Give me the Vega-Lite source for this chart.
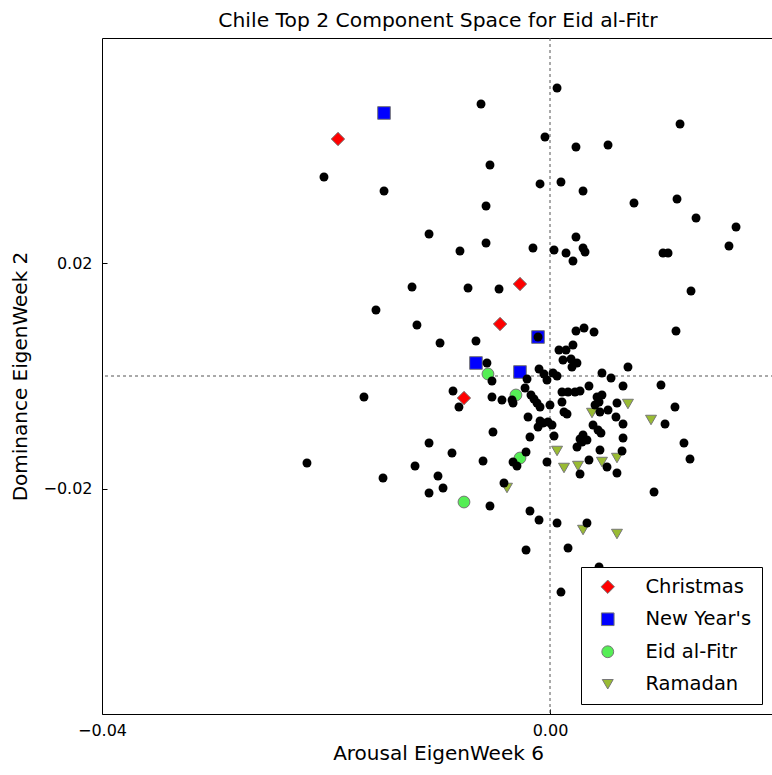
{
  "$schema": "https://vega.github.io/schema/vega-lite/v6.json",
  "autosize": {"type": "none"},
  "padding": {"top": 38, "left": 102, "right": 0, "bottom": 61},
  "width": 672,
  "height": 676,
  "title": {"text": "Chile Top 2 Component Space for Eid al-Fitr", "font": "DejaVu Sans", "fontSize": 20.3, "fontWeight": "normal", "color": "black", "offset": 6, "anchor": "middle"},
  "config": {
    "view": {"stroke": "black", "strokeWidth": 1},
    "axis": {"domain": false, "grid": false, "labelFlush": false, "tickColor": "black", "tickSize": -5, "labelFont": "DejaVu Sans", "labelFontSize": 16, "labelColor": "black", "titleFont": "DejaVu Sans", "titleFontSize": 20, "titleFontWeight": "normal", "titleColor": "black"}
  },
  "datasets": {
    "weeks": [
      {"x": 0.00063, "y": 0.05113}, {"x": -0.00616, "y": 0.04829}, {"x": -0.00045, "y": 0.04243}, {"x": 0.00232, "y": 0.04065},
      {"x": 0.00518, "y": 0.04101}, {"x": 0.01161, "y": 0.04474}, {"x": -0.00536, "y": 0.03746}, {"x": -0.02018, "y": 0.03533},
      {"x": -0.01482, "y": 0.03284}, {"x": -0.00089, "y": 0.03409}, {"x": 0.00098, "y": 0.03444}, {"x": 0.00295, "y": 0.03284},
      {"x": -0.00571, "y": 0.03018}, {"x": 0.0075, "y": 0.03071}, {"x": 0.01134, "y": 0.03142}, {"x": 0.01304, "y": 0.02805},
      {"x": 0.01661, "y": 0.02645}, {"x": 0.01598, "y": 0.02308}, {"x": -0.0108, "y": 0.02521}, {"x": -0.00804, "y": 0.02219},
      {"x": -0.00571, "y": 0.02361}, {"x": -0.00152, "y": 0.02272}, {"x": 0.00036, "y": 0.02237}, {"x": 0.00143, "y": 0.02184},
      {"x": 0.00205, "y": 0.02042}, {"x": 0.00232, "y": 0.02468}, {"x": 0.00295, "y": 0.02272}, {"x": 0.00313, "y": 0.02201},
      {"x": 0.01009, "y": 0.02184}, {"x": 0.01054, "y": 0.02184}, {"x": -0.01232, "y": 0.0158}, {"x": -0.00732, "y": 0.01562},
      {"x": -0.00455, "y": 0.01545}, {"x": 0.01259, "y": 0.01509}, {"x": -0.01554, "y": 0.01172}, {"x": -0.01188, "y": 0.00905},
      {"x": -0.00982, "y": 0.00586}, {"x": -0.00661, "y": 0.00621}, {"x": 0.00232, "y": 0.00799}, {"x": 0.00304, "y": 0.00852},
      {"x": 0.00393, "y": 0.00781}, {"x": 0.01125, "y": 0.00799}, {"x": -0.00107, "y": 0.00692}, {"x": 0.0008, "y": 0.00462},
      {"x": 0.00143, "y": 0.00462}, {"x": 0.00205, "y": 0.0055}, {"x": 0.00116, "y": 0.00284}, {"x": 0.00188, "y": 0.00302},
      {"x": 0.00241, "y": 0.00231}, {"x": 0.00196, "y": 0.0016}, {"x": -0.00563, "y": 0.00231}, {"x": 0.00696, "y": 0.0016},
      {"x": -0.00098, "y": 0.00124}, {"x": -0.00054, "y": 0.00036}, {"x": 0.00027, "y": 0.00053}, {"x": 0.00063, "y": 0.0},
      {"x": -0.00027, "y": -0.00071}, {"x": -0.00205, "y": -0.00053}, {"x": -0.00223, "y": -0.00213}, {"x": 0.00464, "y": 0.00053},
      {"x": 0.00545, "y": -0.00036}, {"x": -0.00518, "y": -0.00089}, {"x": 0.00652, "y": -0.00178}, {"x": 0.00991, "y": -0.0016},
      {"x": -0.00866, "y": -0.00266}, {"x": -0.00813, "y": -0.0055}, {"x": -0.00518, "y": -0.00373}, {"x": -0.00429, "y": -0.00426},
      {"x": -0.00339, "y": -0.00426}, {"x": -0.0033, "y": -0.00479}, {"x": -0.0017, "y": -0.00337}, {"x": -0.00143, "y": -0.00408},
      {"x": -0.00116, "y": -0.00479}, {"x": -0.00089, "y": -0.0055}, {"x": 0.0, "y": -0.00515}, {"x": 0.00107, "y": -0.00284},
      {"x": 0.00161, "y": -0.00284}, {"x": 0.00223, "y": -0.00284}, {"x": 0.00268, "y": -0.00266}, {"x": 0.00348, "y": -0.00178},
      {"x": 0.00107, "y": -0.00462}, {"x": 0.00125, "y": -0.00639}, {"x": 0.00152, "y": -0.00675}, {"x": 0.0042, "y": -0.00373},
      {"x": 0.00464, "y": -0.00337}, {"x": 0.00402, "y": -0.00515}, {"x": 0.00438, "y": -0.00462}, {"x": 0.00598, "y": -0.00479},
      {"x": 0.00518, "y": -0.00604}, {"x": 0.00446, "y": -0.00639}, {"x": 0.01116, "y": -0.0055}, {"x": 0.01027, "y": -0.00852},
      {"x": 0.00589, "y": -0.00728}, {"x": 0.00652, "y": -0.00852}, {"x": -0.00196, "y": -0.00728}, {"x": -0.00089, "y": -0.00799},
      {"x": -0.00063, "y": -0.00834}, {"x": -0.00018, "y": -0.00817}, {"x": 0.00018, "y": -0.0087}, {"x": -0.00107, "y": -0.00905},
      {"x": -0.00509, "y": -0.00994}, {"x": -0.00179, "y": -0.01083}, {"x": 0.00036, "y": -0.01065}, {"x": 0.00384, "y": -0.0087},
      {"x": 0.00429, "y": -0.00959}, {"x": 0.00455, "y": -0.01012}, {"x": 0.00295, "y": -0.01047}, {"x": 0.00268, "y": -0.01118},
      {"x": 0.0033, "y": -0.01136}, {"x": 0.00241, "y": -0.0126}, {"x": 0.00286, "y": -0.01172}, {"x": 0.00652, "y": -0.01101},
      {"x": 0.01196, "y": -0.01189}, {"x": 0.0125, "y": -0.01473}, {"x": -0.0108, "y": -0.01189}, {"x": -0.00875, "y": -0.01367},
      {"x": -0.01205, "y": -0.01598}, {"x": -0.00598, "y": -0.01509}, {"x": -0.00214, "y": -0.01349}, {"x": -0.0033, "y": -0.01527},
      {"x": -0.00295, "y": -0.01598}, {"x": -0.00027, "y": -0.01527}, {"x": 0.00348, "y": -0.01491}, {"x": 0.00446, "y": -0.01314},
      {"x": 0.00643, "y": -0.01331}, {"x": 0.00509, "y": -0.01616}, {"x": 0.00598, "y": -0.01722}, {"x": 0.00268, "y": -0.0174},
      {"x": -0.01, "y": -0.01775}, {"x": -0.00955, "y": -0.01988}, {"x": -0.0108, "y": -0.02077}, {"x": -0.00411, "y": -0.019},
      {"x": 0.00929, "y": -0.02059}, {"x": -0.00536, "y": -0.02308}, {"x": -0.00179, "y": -0.02397}, {"x": -0.00098, "y": -0.02556},
      {"x": 0.00063, "y": -0.0261}, {"x": 0.0033, "y": -0.0261}, {"x": -0.00214, "y": -0.03089}, {"x": 0.00161, "y": -0.03053},
      {"x": 0.00438, "y": -0.03391}, {"x": 0.00098, "y": -0.03835}, {"x": -0.01661, "y": -0.00373}, {"x": -0.0217, "y": -0.01545},
      {"x": -0.01491, "y": -0.01811}
    ],
    "holidays": [
      {"holiday": "Christmas", "x": -0.01893, "y": 0.04207},
      {"holiday": "Christmas", "x": -0.00268, "y": 0.01633},
      {"holiday": "Christmas", "x": -0.00446, "y": 0.00923},
      {"holiday": "Christmas", "x": -0.00768, "y": -0.00391},
      {"holiday": "New Year's", "x": -0.01482, "y": 0.04669},
      {"holiday": "New Year's", "x": -0.00107, "y": 0.00692},
      {"holiday": "New Year's", "x": -0.00661, "y": 0.00231},
      {"holiday": "New Year's", "x": -0.00268, "y": 0.00071},
      {"holiday": "Eid al-Fitr", "x": -0.00554, "y": 0.00036},
      {"holiday": "Eid al-Fitr", "x": -0.00304, "y": -0.00337},
      {"holiday": "Eid al-Fitr", "x": -0.00268, "y": -0.01456},
      {"holiday": "Eid al-Fitr", "x": -0.00768, "y": -0.02237},
      {"holiday": "Ramadan", "x": 0.00696, "y": -0.00497},
      {"holiday": "Ramadan", "x": 0.00902, "y": -0.00781},
      {"holiday": "Ramadan", "x": 0.00063, "y": -0.01331},
      {"holiday": "Ramadan", "x": 0.00598, "y": -0.01456},
      {"holiday": "Ramadan", "x": 0.00125, "y": -0.01633},
      {"holiday": "Ramadan", "x": 0.0025, "y": -0.01598},
      {"holiday": "Ramadan", "x": 0.00464, "y": -0.01527},
      {"holiday": "Ramadan", "x": -0.00384, "y": -0.01988},
      {"holiday": "Ramadan", "x": 0.00295, "y": -0.02734},
      {"holiday": "Ramadan", "x": 0.00598, "y": -0.02805},
      {"holiday": "Ramadan", "x": 0.00375, "y": -0.00657}
    ]
  },
  "layer": [
    {
      "data": {"values": [{}]},
      "mark": {"type": "rule", "color": "#555555", "strokeDash": [3, 3], "strokeWidth": 1},
      "encoding": {"x": {"datum": 0, "type": "quantitative", "scale": {"domain": [-0.04, 0.02], "nice": false, "zero": false}}}
    },
    {
      "data": {"values": [{}]},
      "mark": {"type": "rule", "color": "#555555", "strokeDash": [3, 3], "strokeWidth": 1},
      "encoding": {"y": {"datum": 0, "type": "quantitative", "scale": {"domain": [-0.06, 0.06], "nice": false, "zero": false}}}
    },
    {
      "data": {"name": "holidays"},
      "mark": {"type": "point", "filled": true, "opacity": 1, "stroke": "#777777", "strokeWidth": 1},
      "encoding": {
        "x": {"field": "x", "type": "quantitative", "scale": {"domain": [-0.04, 0.02], "nice": false, "zero": false}, "axis": {"values": [-0.04, 0], "format": ".2f", "title": "Arousal EigenWeek 6", "labelPadding": 13, "titlePadding": 5}},
        "y": {"field": "y", "type": "quantitative", "scale": {"domain": [-0.06, 0.06], "nice": false, "zero": false}, "axis": {"values": [-0.02, 0.02], "format": ".2f", "title": "Dominance EigenWeek 2", "labelPadding": 15, "titlePadding": 12}},
        "color": {"field": "holiday", "type": "nominal", "scale": {"domain": ["Christmas", "New Year's", "Eid al-Fitr", "Ramadan"], "range": ["#ff0000", "#0000ff", "#55ee55", "#99bb33"]},
          "legend": {"title": null, "orient": "none", "legendX": 479, "legendY": 529, "strokeColor": "black", "fillColor": "white", "padding": 10, "labelFont": "DejaVu Sans", "labelFontSize": 19.5, "labelColor": "black", "rowPadding": 11.5, "symbolSize": 120, "symbolOffset": 7, "labelOffset": 28, "symbolStrokeColor": "#777777", "symbolStrokeWidth": 1, "cornerRadius": 0}},
        "shape": {"field": "holiday", "type": "nominal", "scale": {"domain": ["Christmas", "New Year's", "Eid al-Fitr", "Ramadan"], "range": ["diamond", "square", "circle", "triangle-down"]}},
        "size": {"field": "holiday", "type": "nominal", "legend": null, "scale": {"domain": ["Christmas", "New Year's", "Eid al-Fitr", "Ramadan"], "range": [180, 120, 120, 120]}}
      }
    },
    {
      "data": {"name": "weeks"},
      "mark": {"type": "circle", "color": "black", "opacity": 1, "size": 80},
      "encoding": {
        "x": {"field": "x", "type": "quantitative"},
        "y": {"field": "y", "type": "quantitative"}
      }
    }
  ]
}
